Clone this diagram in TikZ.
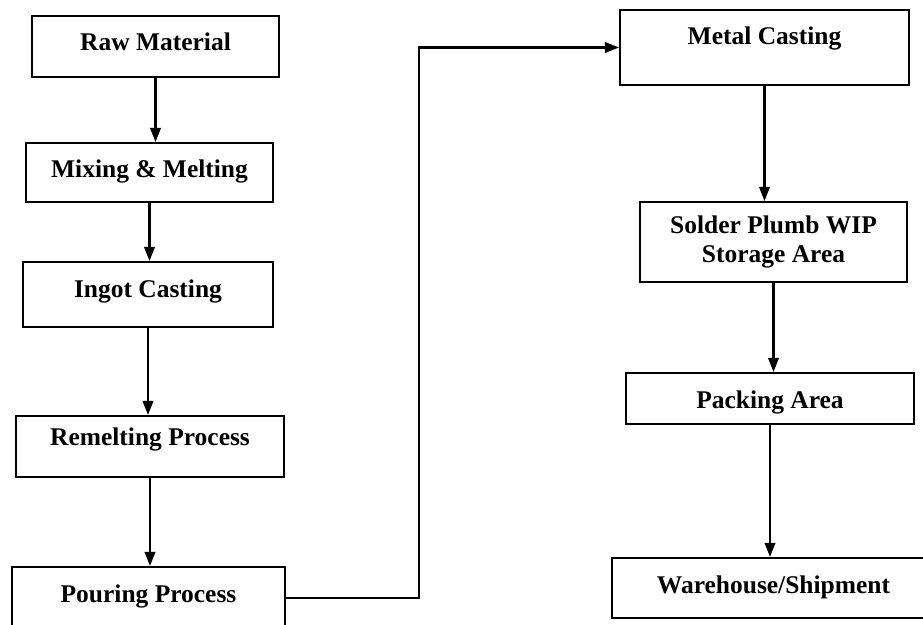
\documentclass[tikz,border=0pt]{standalone}
\usepackage{fontspec}
\setmainfont{Liberation Serif}
\usepackage{tikz}
\usetikzlibrary{arrows.meta,positioning,calc}

\begin{document}
\begin{tikzpicture}[
    x=0.02cm, y=-0.02cm,
    box/.style={rectangle, draw=black, line width=1.2pt, inner sep=0pt, align=center, text height=0.7cm, font=\fontsize{14.5}{16}\selectfont\bfseries},
    arrow/.style={-{Triangle[length=0.28cm, width=0.21cm]}, line width=1.2pt, draw=black}
]
    \useasboundingbox (0,0) rectangle (923,625);

    % left column
    \node [box, minimum width=4.94cm, text depth=0.52cm] (raw) at (155.5,46.5) {Raw Material};
    \node [box, minimum width=4.94cm, text depth=0.48cm] (mix) at (149.5,172.5) {Mixing \& Melting};
    \node [box, minimum width=5.0cm, text depth=0.6cm] (ingot) at (148,294.5) {Ingot Casting};
    \node [box, minimum width=5.36cm, text height=0.58cm, text depth=0.64cm] (remelt) at (150,446.5) {Remelting Process};
    \node [box, minimum width=5.46cm, text depth=0.96cm] (pour) at (148.5,608.5) {Pouring Process};

    % right column
    \node [box, minimum width=5.78cm, text depth=0.8cm] (metal) at (764.5,47.5) {Metal Casting};
    \node [box, minimum width=5.34cm, minimum height=1.6cm, text height=, text depth=] (solder) at (773.5,242) {Solder Plumb WIP\\Storage Area};
    \node [box, minimum width=5.76cm, text depth=0.32cm] (pack) at (770,398.5) {Packing Area};
    \node [box, minimum width=6.46cm, text depth=0.5cm] (ware) at (773.5,588) {Warehouse/Shipment};

    \coordinate (turn) at (419,47.5);

    \draw [arrow] (raw.south) -- (raw.south |- mix.north);
    \draw [arrow] (mix.south) -- (mix.south |- ingot.north);
    \draw [arrow] (ingot.south) -- (ingot.south |- remelt.north);
    \draw [arrow] (remelt.south) -- (remelt.south |- pour.north);
    \draw [arrow] (pour.mid east) -| (turn) -- (metal.west);
    \draw [arrow] (metal.south) -- (metal.south |- solder.north);
    \draw [arrow] (solder.south) -- (solder.south |- pack.north);
    \draw [arrow] (pack.south) -- (pack.south |- ware.north);
\end{tikzpicture}
\end{document}
